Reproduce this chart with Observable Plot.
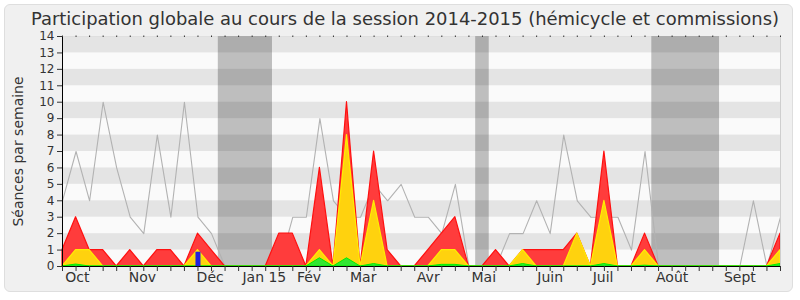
<!DOCTYPE html>
<html><head><meta charset="utf-8">
<script src="https://cdn.jsdelivr.net/npm/d3@7"></script>
<script src="https://cdn.jsdelivr.net/npm/@observablehq/plot@0.6"></script>
<style>
html,body{margin:0;padding:0;background:#fff;}
#panel{position:absolute;left:4px;top:4px;width:789px;height:288px;background:#f0f0f0;border:1px solid #dedede;border-radius:6px;box-sizing:border-box;}
#chart{position:absolute;left:0;top:0;width:800px;}
#title{height:20px;width:800px;position:relative;font-family:"DejaVu Sans Condensed","DejaVu Sans",sans-serif;font-size:18px;color:#333;}
#title span{position:absolute;left:31px;top:9px;white-space:nowrap;transform-origin:0 0;line-height:1.164;}
svg{display:block;overflow:visible;}
</style></head>
<body>
<div id="panel"></div>
<div id="chart"><div id="title"><span id="ttl">Participation globale au cours de la session 2014-2015 (hémicycle et commissions)</span></div></div>
<script>
// week index of the session (0 = first week of October 2014)
const weekIdx = d3.range(54);
// grey line: séances per week
const totalLine = [4,7,4,10,6,3,2,8,3,10,3,2,0,0,0,0,0,3,3,9,4,3,3,5,4,5,3,3,2,5,0,0,0,2,2,4,2,8,4,3,3,3,1,7,0,0,0,0,0,0,0,4,0,3];
// red area
const redVals = [1,3,1,1,0,1,0,1,1,0,2,1,0,0,0,0,2,2,0,6,0,10,0,7,1,0,0,1,2,3,0,0,1,0,1,1,1,1,2,0,7,0,0,2,0,0,0,0,0,0,0,0,0,2];
// yellow area
const yellowVals = [0,1,1,0,0,0,0,0,0,0,1,0,0,0,0,0,0,0,0,1,0,8,0,4,0,0,0,0,1,1,0,0,0,0,1,0,0,0,2,0,4,0,0,1,0,0,0,0,0,0,0,0,0,1];
// green area
const greenVals = [0,0.12,0,0,0,0,0,0,0,0,0,0,0,0,0,0,0,0,0,0.5,0,0.5,0,0.15,0,0,0,0,0.1,0.1,0,0,0,0,0.15,0,0,0,0,0,0.15,0,0,0.05,0,0,0,0,0,0,0,0,0,0.15];
// blue bars
const blueWeeks = [10];
const blueVals = [0.87];
// vacation periods (in weeks)
const vacStart = [11.5, 30.5, 43.5];
const vacEnd = [15.5, 31.5, 48.5];
// axes
const yTicks = [0,1,2,3,4,5,6,7,8,9,10,11,12,13,14];
const stripeStarts = [1,3,5,7,9,11,13];
const monthPos = [1.1, 5.9, 10.9, 14.9, 18.2, 22.2, 27, 31.1, 36, 39.9, 45, 50];
const monthLabels = ["Oct","Nov","Déc","Jan 15","Fév","Mar","Avr","Mai","Juin","Juil","Août","Sept"];

const rows = weekIdx.map((w, k) => ({w, total: totalLine[k], red: redVals[k], yellow: yellowVals[k], green: greenVals[k]}));
const blue = blueWeeks.map((w, k) => ({w, v: blueVals[k]}));
const vac = vacStart.map((s, k) => ({s, e: vacEnd[k]}));

const chart = Plot.plot({
  width: 800, height: 280,
  marginTop: 16, marginBottom: 34, marginLeft: 62, marginRight: 20,
  x: {domain: [0, 53]},
  y: {domain: [0, 14]},
  style: {background: "transparent", fontFamily: "DejaVu Sans, sans-serif", color: "#333", overflow: "visible"},
  marks: [
    Plot.frame({fill: "#fafafa", stroke: null}),
    Plot.rect(vac, {x1: "s", x2: "e", fill: "#bebebe"}),
    Plot.rect(stripeStarts, {y1: d => d, y2: d => d + 1, fill: "#000", fillOpacity: 0.085}),
    Plot.line(rows, {x: "w", y: "total", stroke: "#b2b2b2", strokeWidth: 1.1}),
    Plot.areaY(rows, {x: "w", y: "red", fill: "#ff3c3c", stroke: "#ff1010", strokeWidth: 1.2}),
    Plot.areaY(rows, {x: "w", y: "yellow", fill: "#ffd20e", stroke: "#ffee00", strokeWidth: 1.2}),
    Plot.areaY(rows, {x: "w", y: "green", fill: "#33e633", stroke: "#00ee00", strokeWidth: 1}),
    Plot.ruleX(blue, {x: "w", y1: 0, y2: "v", stroke: "#2222dd", strokeWidth: 5}),
    Plot.ruleX([53], {stroke: "#cfcfcf"}),
    Plot.ruleX([0], {stroke: "#000"}),
    Plot.ruleY([0], {stroke: "#000"}),
    Plot.axisY({ticks: yTicks, tickSize: 5, tickPadding: 3, fontSize: 12, label: null, tickFormat: d => String(d)}),
    Plot.axisX({ticks: weekIdx, tickSize: 5, tickFormat: () => "", label: null}),
    Plot.axisX({anchor: "top", ticks: weekIdx, tickSize: 1.5, tickFormat: () => "", label: null}),
    Plot.axisX({ticks: monthPos, tickSize: 0, tickPadding: 6, fontSize: 14, label: null, tickFormat: d => monthLabels[monthPos.indexOf(d)]}),
    Plot.text(["Séances par semaine"], {frameAnchor: "left", textAnchor: "middle", rotate: -90, dx: -44, fontSize: 14, fill: "#333"})
  ]
});
document.getElementById("chart").appendChild(chart);
const t = document.getElementById("ttl");
const w = t.getBoundingClientRect().width;
t.style.transform = `scaleX(${748 / w})`;
</script>
</body></html>
